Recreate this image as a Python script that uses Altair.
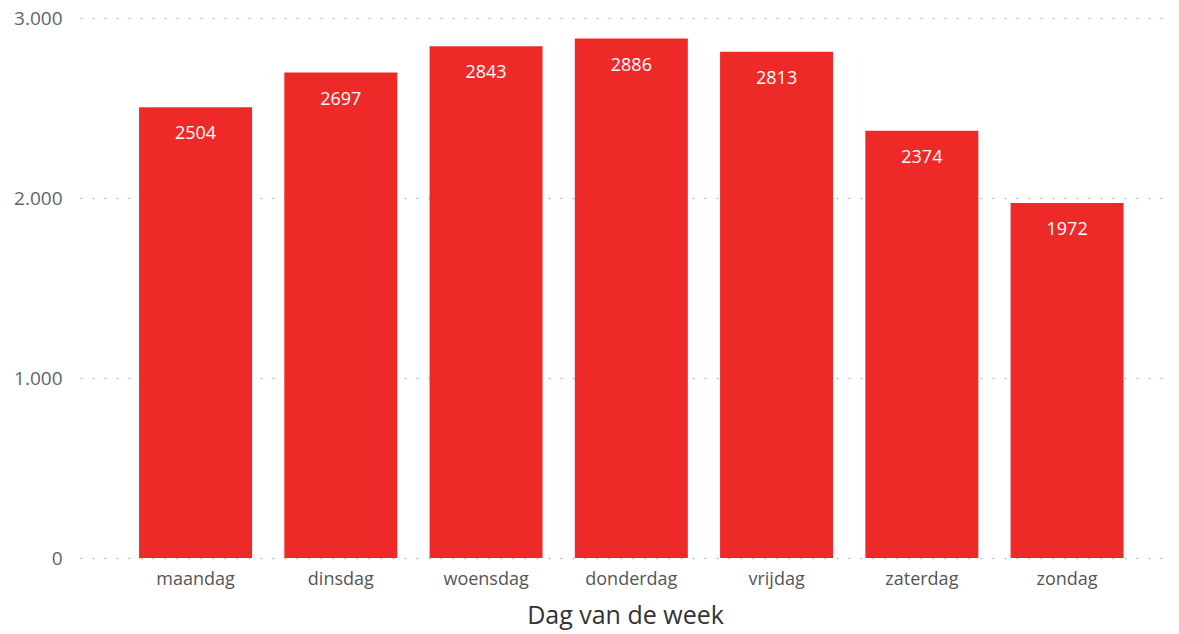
import altair as alt
import pandas as pd

days = ["maandag", "dinsdag", "woensdag", "donderdag", "vrijdag", "zaterdag", "zondag"]
counts = [2504, 2697, 2843, 2886, 2813, 2374, 1972]
y_ticks = [0, 1000, 2000, 3000]

df = pd.DataFrame({"dag": days, "aantal": counts})

FONT = "Open Sans"
RED = "#EE2A28"

x = alt.X(
    "dag:N",
    sort=days,
    title="Dag van de week",
    scale=alt.Scale(paddingInner=0.222, paddingOuter=0.363, align=0.56),
    axis=alt.Axis(
        labelAngle=0,
        labelFont=FONT,
        labelFontSize=18,
        labelColor="#555555",
        labelPadding=12,
        ticks=False,
        domain=False,
        grid=False,
        titleFont=FONT,
        titleFontSize=25,
        titleFontWeight="normal",
        titleColor="#333333",
        titlePadding=15,
    ),
)

y = alt.Y(
    "aantal:Q",
    title=None,
    scale=alt.Scale(domain=[0, 3000], nice=False),
    axis=alt.Axis(
        values=y_ticks,
        labelExpr="replace(format(datum.value, ','), ',', '.')",
        labelFont=FONT,
        labelFontSize=19,
        labelColor="#5a6670",
        labelPadding=18,
        ticks=False,
        domain=False,
        grid=True,
        gridColor="#a9c4d8",
        gridDash=[2, 10],
        gridWidth=1.5,
    ),
)

bars = alt.Chart(df).mark_bar(color=RED).encode(x=x, y=y)

labels = alt.Chart(df).mark_text(
    color="white", font=FONT, fontSize=18, baseline="middle", dy=27
).encode(x=alt.X("dag:N", sort=days), y="aantal:Q", text="aantal:Q")

chart = (
    (bars + labels)
    .properties(
        width=1090,
        height=540,
        background="white",
        autosize=alt.AutoSizeParams(type="none"),
        padding={"left": 80, "top": 18, "right": 9, "bottom": 76},
    )
    .configure_view(strokeWidth=0, stroke="transparent")
)

chart.save("out.html", embed_options={"renderer": "svg", "actions": False})
